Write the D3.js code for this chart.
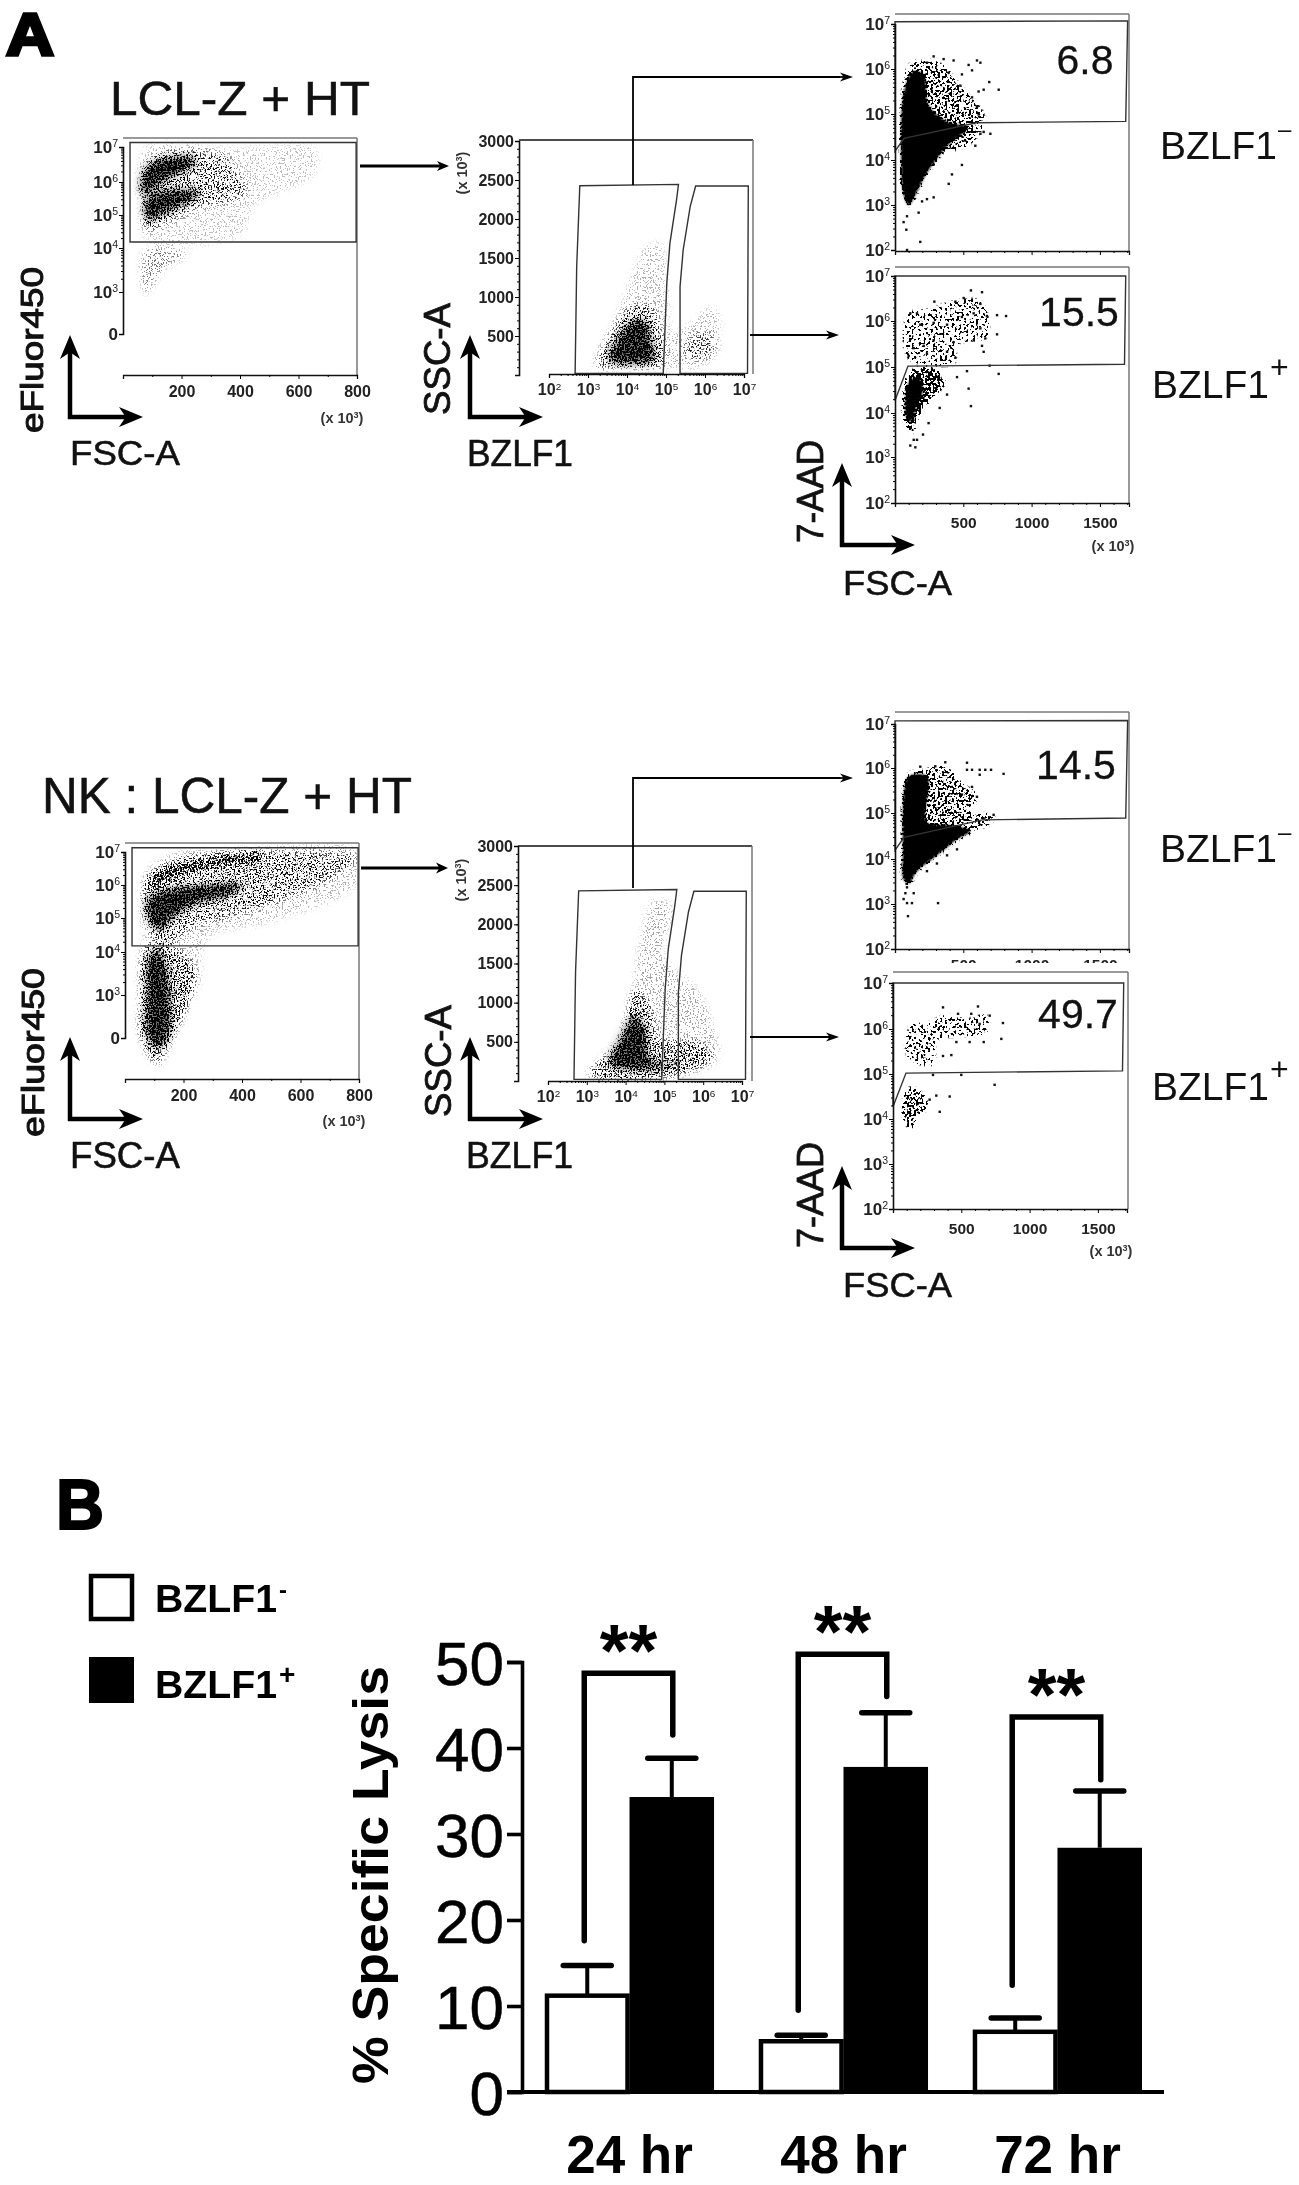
<!DOCTYPE html>
<html><head><meta charset="utf-8">
<script src="https://cdnjs.cloudflare.com/ajax/libs/d3/7.8.5/d3.min.js"></script>
<style>html,body{margin:0;padding:0;background:#fff}svg{display:block;filter:blur(.5px)}text{font-family:"Liberation Sans",Arial,sans-serif}</style>
</head><body><svg id="c" width="1299" height="2185"></svg>
<script>
// ---------- Panel B data ----------
const timeLabels = ["24 hr","48 hr","72 hr"];
const seriesNames = ["BZLF1-","BZLF1+"];
const lysisNeg = [11.2,5.9,7.0];
const lysisPos = [34.3,37.8,28.4];
const errTopNeg = [14.7,6.6,8.6];
const errTopPos = [38.8,44.1,35.0];
const bracketTop = [48.7,50.9,43.6];
const bracketLeftEnd = [17.6,9.5,12.4];
const bracketRightEnd = [41.5,46.0,36.3];
const lysisTicks = [0,10,20,30,40,50];

// ---------- Flow gates (FSC x10^3 or log10 BZLF1, vs log10 / SSC x10^3) ----------
const eFluorGate = [[24,7.13],[797,7.13],[797,4.18],[24,4.18]];
const bzlfNegGate = [[2.67,21],[2.71,1389],[2.79,2427],[5.32,2444],[5.27,2244],[5.10,1688],[5.02,1175],[4.93,21]];
const bzlfPosGate = [[5.36,21],[5.36,1132],[5.44,1603],[5.62,2158],[5.76,2423],[7.11,2423],[7.09,21]];
const aadGateA3 = [[0,7.05],[1703,7.07],[1689,4.84],[598,4.81],[66,4.47],[0,4.19]];
const aadGateA4 = [[0,7.0],[1689,7.0],[1680,5.06],[95,5.02],[0,4.27]];
const aadGateB3 = [[0,7.07],[1703,7.08],[1689,4.89],[640,4.85],[66,4.47],[0,4.19]];
const aadGateB4 = [[0,7.0],[1689,7.0],[1680,5.07],[95,5.02],[0,4.27]];

// ---------- Density regions: each has a level and an outline ----------
const a1Density = [
 {level:.1,pts:[[75,6.95],[400,6.95],[660,6.95],[650,6.2],[450,5.3],[400,4.4],[80,4.3],[60,5.5]]},
 {level:.3,pts:[[64,5.85],[104,6.71],[218,6.9],[355,6.71],[378,6.43],[423,5.75],[378,5.45],[264,5.25],[148,4.75],[80,4.55],[74,5.45]]},
 {level:1,pts:[[64,5.7],[75,6.33],[126,6.62],[190,6.7],[250,6.68],[240,6.5],[195,6.28],[126,5.98],[80,5.65]]},
 {level:1,pts:[[80,5.45],[148,5.72],[215,5.75],[265,5.7],[230,5.45],[171,5.2],[114,4.95],[85,4.85]]},
 {level:.22,pts:[[64,3.25],[80,3.96],[171,4],[216,3.85],[148,3.57],[103,3.2],[80,2.95]]}
];
const b1Density = [
 {level:.12,pts:[[70,6.3],[150,6.9],[400,7.05],[790,7.05],[790,6],[500,4.9],[280,4.4],[250,3.2],[150,2],[120,1.3],[70,2],[65,4]]},
 {level:.3,pts:[[70,6.1],[152,6.7],[318,6.95],[650,7.0],[790,6.85],[730,6.35],[567,5.65],[400,5.15],[235,4.75],[136,4.15],[103,4.35],[61,5.35]]},
 {level:.45,pts:[[53,2.1],[103,1.45],[170,2.1],[235,3.6],[152,4.15],[70,4.15],[53,2.9]]},
 {level:1,pts:[[86,3.88],[111,4.04],[136,3.65],[152,2.74],[144,2.02],[111,1.78],[78,2.1],[78,2.9]]},
 {level:1,pts:[[78,5.55],[152,5.85],[268,5.95],[401,6.0],[351,5.7],[235,5.45],[152,4.95],[119,4.65],[86,4.95]]},
 {level:.82,pts:[[78,6.15],[136,6.5],[235,6.75],[351,6.9],[467,6.95],[467,6.75],[333,6.6],[235,6.4],[152,6.15],[86,5.9]]}
];
const a2Density = [
 {level:.12,pts:[[4.16,1302],[4.5,1644],[4.85,1687],[5.02,1132],[5.2,534],[6.22,875],[6.39,449],[6.05,150],[4.7,100],[3.7,400]]},
 {level:.38,pts:[[3.22,107],[3.73,661],[4.16,875],[4.59,875],[4.85,534],[4.93,150],[3.82,107]]},
 {level:1,pts:[[3.56,192],[3.82,491],[4.08,661],[4.42,705],[4.59,449],[4.68,192],[4.25,150]]},
 {level:.24,pts:[[5.44,320],[5.79,534],[6.22,491],[6.22,278],[5.62,192]]}
];
const b2Density = [
 {level:.14,pts:[[4.36,1722],[4.73,2320],[5.17,2235],[4.98,1593],[5.85,1165],[6.35,525],[6.35,269],[5.35,55],[3.24,55],[3.99,610]]},
 {level:.42,pts:[[3.06,77],[3.86,525],[4.24,1165],[4.6,952],[4.86,525],[5.85,482],[6.22,311],[5.35,98]]},
 {level:1,pts:[[3.61,226],[3.86,525],[4.24,824],[4.48,653],[4.6,269],[5.35,205],[4.11,162]]}
];
const a3Density = [
 {level:.42,pts:[[100,6.05],[210,6.2],[356,6.05],[478,5.6],[600,5.2],[650,4.9],[560,4.4],[360,4.2],[100,4.5]]},
 {level:1,pts:[[68,5.5],[137,5.95],[210,5.87],[245,5.2],[381,4.83],[527,4.7],[381,4.3],[234,3.72],[161,3.3],[100,3.0],[63,3.25],[46,4.05]]}
];
const a4Density = [
 {level:.26,pts:[[100,6.15],[259,6.26],[429,6.43],[625,6.43],[673,5.67],[454,5.5],[429,5.08],[185,5.08],[88,5.24]]},
 {level:.72,pts:[[63,4.15],[100,4.82],[185,4.99],[307,4.91],[356,4.65],[259,4.32],[161,3.89],[124,3.56],[76,3.81]]},
 {level:1,pts:[[75,4.2],[110,4.7],[175,4.75],[205,4.5],[150,4.1],[115,3.8],[85,3.9]]}
];
const b3Density = [
 {level:.42,pts:[[100,5.85],[210,5.94],[356,6.03],[478,5.67],[600,5.36],[527,5.05],[722,4.92],[673,4.74],[381,4.6],[210,4.7]]},
 {level:1,pts:[[68,5.5],[100,5.81],[234,5.81],[234,4.79],[381,4.74],[551,4.61],[454,4.43],[307,4.08],[161,3.73],[100,3.46],[63,3.55],[59,4.17]]}
];
const b4Density = [
 {level:.3,pts:[[98,5.67],[134,6.07],[244,6.11],[390,6.29],[537,6.2],[683,6.29],[683,5.94],[488,5.85],[317,5.76],[293,5.23],[195,5.23],[110,5.4]]},
 {level:.5,pts:[[73,4.25],[122,4.69],[220,4.52],[244,4.25],[171,4.07],[134,3.81],[98,3.89]]}
];

// ---------- Individually readable events ----------
const a3Events = [[283,6.28],[234,6.14],[356,6.22],[429,6.19],[600,6.19],[625,6.14],[539,6.09],[564,5.97],[393,5.92],[490,5.88],[690,5.71],[759,5.54],[649,5.54],[612,5.5],[564,5.37],[478,5.63],[600,5.16],[612,4.99],[649,4.61],[698,4.57],[625,4.57],[588,4.31],[490,3.89],[417,3.68],[393,3.47],[283,3.17],[234,3.13],[198,3.08],[173,2.83],[88,2.75],[63,2.62],[83,2.45],[185,2.18],[88,2.0]];
const a4Events = [[556,6.68],[637,6.64],[503,6.51],[442,6.43],[288,6.43],[625,6.38],[747,6.13],[813,6.11],[673,6.11],[576,6.17],[490,6.09],[381,5.92],[283,5.96],[185,5.92],[161,6.17],[112,6.17],[625,5.84],[747,5.71],[661,5.62],[576,5.58],[637,5.46],[649,5.33],[429,5.54],[381,5.33],[442,5.2],[283,5.58],[210,5.46],[137,5.41],[100,5.24],[234,5.29],[693,5.03],[527,4.91],[759,4.85],[454,4.78],[539,4.53],[381,4.4],[556,4.15],[327,4.11],[246,3.77],[205,3.51],[161,3.39],[149,3.22],[112,3.26],[137,3.39]];
const b3Events = [[527,6.12],[368,6.13],[295,6.04],[185,6.03],[527,5.96],[564,5.96],[620,5.96],[661,5.96],[703,5.96],[795,5.87],[620,5.85],[564,5.58],[490,5.41],[600,5.36],[722,4.96],[649,4.88],[315,3.02],[95,2.73],[63,3.11],[88,3.02],[124,3.02],[137,3.24],[76,3.24],[88,3.37],[234,3.73],[307,3.9],[381,4.08],[454,4.21]];
const b4Events = [[622,6.49],[708,6.29],[805,6.13],[793,5.78],[744,4.76],[500,4.98],[427,5.42],[366,5.4],[293,4.98],[342,4.16],[415,4.5],[317,4.52],[268,4.43],[366,6.47],[476,6.33],[573,6.33],[634,6.11],[664,5.71],[561,5.71],[464,5.71]];

// ---------- Tick values ----------
const fscTicksSmall = [200,400,600,800];
const fscMinorSmall = [100,300,500,700];
const fscTicksLarge = [500,1000,1500];
const fscMinorLarge = [100,200,300,400,600,700,800,900,1100,1200,1300,1400,1600,1700];
const eFluorTicks = [2,3,4,5,6,7];
const aadTicks = [2,3,4,5,6,7];
const sscTicks = [500,1000,1500,2000,2500,3000];
const bzlfTicks = [2,3,4,5,6,7];
const percentages = ["6.8","15.5","14.5","49.7"];

// ---------- Layout (pixels only here) ----------
const svg = d3.select("#c");
const defs = svg.append("defs");
function stippleFilter(id,freq,oct,blur,slope,soft){
  const f=defs.append("filter").attr("id",id).attr("x","-20%").attr("y","-20%").attr("width","140%").attr("height","140%").attr("color-interpolation-filters","sRGB");
  f.append("feGaussianBlur").attr("in","SourceAlpha").attr("stdDeviation",blur).attr("result","field");
  f.append("feTurbulence").attr("type","fractalNoise").attr("baseFrequency",freq).attr("numOctaves",oct).attr("seed",4).attr("result","n");
  f.append("feColorMatrix").attr("in","n").attr("type","matrix").attr("values","0 0 0 0 0  0 0 0 0 0  0 0 0 0 0  4 0 0 0 -1.5").attr("result","g");
  f.append("feComposite").attr("in","field").attr("in2","g").attr("operator","arithmetic").attr("k1",0).attr("k2",1).attr("k3",1).attr("k4",-1).attr("result","s");
  const t=f.append("feComponentTransfer").attr("in","s").attr("result","t");
  t.append("feFuncA").attr("type","linear").attr("slope",slope).attr("intercept",0);
  f.append("feGaussianBlur").attr("in","t").attr("stdDeviation",soft);
}
stippleFilter("fine",.62,2,3.5,2.6,.5);
stippleFilter("coarse",.42,1,1.5,9,.2);
defs.append("filter").attr("id","softfine").attr("x","-30%").attr("y","-30%").attr("width","160%").attr("height","160%").append("feGaussianBlur").attr("stdDeviation",4);
defs.append("filter").attr("id","softcoarse").attr("x","-20%").attr("y","-20%").attr("width","140%").attr("height","140%").append("feGaussianBlur").attr("stdDeviation",.8);

function txt(g,x,y,s,o={}){
  const t=g.append("text").attr("transform",`translate(${x},${y})`+(o.rot?` rotate(${o.rot})`:""))
    .attr("font-size",o.size||16).attr("font-weight",o.weight||"normal").attr("fill",o.fill||"#111")
    .attr("text-anchor",o.anchor||"start");
  if(o.stroke) t.attr("stroke",o.fill||"#111").attr("stroke-width",o.stroke);
  const m=t.append("tspan").text(s);
  if(o.len) m.attr("textLength",o.len).attr("lengthAdjust","spacingAndGlyphs");
  if(o.sup) t.append("tspan").text(o.sup).attr("font-size",o.supSize||o.size*.6).attr("dy",o.supDy||-o.size*.35).attr("dx",o.supDx||0);
  return t;
}
function arrow(g,x1,y1,x2,y2,w,hl,hw){
  const a=Math.atan2(y2-y1,x2-x1),c=Math.cos(a),s=Math.sin(a);
  g.append("line").attr("x1",x1).attr("y1",y1).attr("x2",x2-c*hl*.6).attr("y2",y2-s*hl*.6).attr("stroke","#000").attr("stroke-width",w);
  const p=(l,n)=>[x2-c*l-s*n,y2-s*l+c*n];
  g.append("path").attr("fill","#000").attr("d","M"+[p(0,0),p(hl,hw/2),p(hl*.72,0),p(hl,-hw/2)].join("L")+"Z");
}
let clipN=0;
function flowPanel(c){
  const g=svg.append("g");
  const b=c.box;
  if(c.cover) g.append("rect").attr("x",c.cover[0]).attr("y",c.cover[1]).attr("width",c.cover[2]).attr("height",c.cover[3]).attr("fill","#fff");
  const x=d3.scaleLinear().domain(c.xDomain).range(c.xRange);
  const y=d3.scaleLinear().domain(c.yDomain).range(c.yRange);
  const id="cp"+(clipN++);
  defs.append("clipPath").attr("id",id).append("rect").attr("x",b.l).attr("y",b.t).attr("width",b.r-b.l).attr("height",b.b-b.t);
  const clip=g.append("g").attr("clip-path",`url(#${id})`);
  const dens=clip.append("g").attr("filter",`url(#${c.filter})`);
  const area=d3.line().x(d=>x(d[0])).y(d=>y(d[1])).curve(d3.curveCatmullRomClosed);
  c.density.forEach(d=>dens.append("path").attr("d",area(d.pts)).attr("fill","#000").attr("fill-opacity",d.level));
  const isFine=c.filter==="fine";
  const solid=clip.append("g").attr("filter",`url(#${isFine?"softfine":"softcoarse"})`);
  c.density.filter(d=>d.level>=1).forEach(d=>solid.append("path").attr("d",area(d.pts)).attr("fill","#000").attr("fill-opacity",isFine?.55:1));
  if(c.events) clip.selectAll(".ev").data(c.events).join("rect").attr("x",d=>x(d[0])-1.2).attr("y",d=>y(d[1])-1.2).attr("width",2.4).attr("height",2.4).attr("fill","#111");
  // frame
  g.append("path").attr("fill","none").attr("stroke",c.topDark?"#111":"#777").attr("stroke-width",1.5).attr("d",`M${b.l},${b.t}H${b.r}`);
  g.append("path").attr("fill","none").attr("stroke","#777").attr("stroke-width",1.5).attr("d",`M${b.r},${b.t}V${b.b}`);
  // gates
  const gl=d3.line().x(d=>x(d[0])).y(d=>y(d[1]));
  (c.gates||[]).forEach(G=>g.append("path").attr("d",gl(G)+"Z").attr("fill","none").attr("stroke","#333").attr("stroke-width",1.4));
  // axes
  const ax=g.append("g").attr("transform",`translate(0,${b.b})`).call(d3.axisBottom(x).tickValues(c.xTicks).tickSize(4).tickPadding(c.xPad).tickFormat(c.xFmt));
  const ay=g.append("g").attr("transform",`translate(${b.l},0)`).call(d3.axisLeft(y).tickValues(c.yTicks).tickSize(4).tickPadding(c.yPad||1).tickFormat(c.yFmt));
  g.append("g").attr("transform",`translate(0,${b.b})`).call(d3.axisBottom(x).tickValues(c.xMinor).tickSize(2).tickFormat("")).select(".domain").remove();
  g.append("g").attr("transform",`translate(${b.l},0)`).call(d3.axisLeft(y).tickValues(c.yMinor).tickSize(2).tickFormat("")).select(".domain").remove();
  g.selectAll(".domain").attr("stroke","#111").attr("stroke-width",1.6);
  ax.select(".domain").attr("stroke-width",1.3);
  const styleT=(s,sz)=>s.selectAll("text").attr("font-size",sz).attr("font-weight","bold").attr("fill","#222").attr("font-family",'"Liberation Sans",Arial,sans-serif');
  styleT(ax,c.tickX);styleT(ay,c.tickY);
  if(c.expX) expTicks(ax,c.tickX,"middle");
  if(c.expY) expTicks(ay,c.tickY,"end");
  return {g,x,y};
}
function expTicks(a,size,anchor){
  a.selectAll(".tick text").each(function(d){
    const t=d3.select(this), s=t.text();
    if(s!=="x") return;
    t.text("").attr("text-anchor",anchor);
    t.append("tspan").text("10");
    t.append("tspan").text(d).attr("font-size",size*.62).attr("dy",-size*.36).attr("font-weight","normal");
  });
}
const expFmt=()=>"x";
const eFluorFmt=d=>d===2?"0":"x";
const logMinor=[];
[2,3,4,5,6].forEach(e=>[2,3,4,5,6,7,8,9].forEach(m=>logMinor.push(e+Math.log10(m))));

function xNote(g,x,y,rot){
  const o={size:14.5,anchor:"middle",weight:"bold",sup:"3",supSize:9,supDy:-5,fill:"#333"};
  if(rot) o.rot=rot;
  const t=txt(g,x,y,"(x 10",o); t.append("tspan").text(")").attr("dy",5);
}

function eFluorPanel(box,yRange,x800,density){
  return flowPanel({box,xDomain:[0,800],xRange:[box.l,x800],yDomain:[2,3,4,5,6,7],yRange,filter:"fine",density,gates:[eFluorGate],
    xTicks:fscTicksSmall,xMinor:fscMinorSmall,xPad:7,yTicks:eFluorTicks,yMinor:logMinor.filter(d=>d>3.1),xFmt:d=>d,yFmt:eFluorFmt,expY:true,tickX:16,tickY:17});
}
function bzlfPanel(box,xRange,yRange,density){
  return flowPanel({box,xDomain:[2,7],xRange,yDomain:[0,3000],yRange,filter:"fine",density,gates:[bzlfNegGate,bzlfPosGate],topDark:true,
    xTicks:bzlfTicks,xMinor:logMinor,xPad:6,yTicks:sscTicks,yMinor:d3.range(100,3000,100),xFmt:expFmt,yFmt:d=>d,expX:true,tickX:16,tickY:16});
}
function aadPanel(box,xRange,yRange,density,events,gate,opts={}){
  return flowPanel(Object.assign({box,xDomain:[0,1713],xRange,yDomain:[2,3,4,5,6,7],yRange,filter:"coarse",density,events,gates:[gate],
    xTicks:fscTicksLarge,xMinor:fscMinorLarge,xPad:10,yTicks:aadTicks,yMinor:logMinor,xFmt:d=>d,yFmt:expFmt,expY:true,tickX:15.5,tickY:17},opts));
}

const P1=eFluorPanel({l:123,r:357,t:138,b:375},[334,292,248,215,182,147],357,a1Density);
const P2=bzlfPanel({l:519,r:753,t:140,b:374},[549,744],[375,141],a2Density);
const P3=aadPanel({l:895,r:1129,t:14,b:251},[895,1129],[250,205,160,114,69,24],a3Density,a3Events,aadGateA3,{xFmt:()=>""});
const P4=aadPanel({l:895,r:1129,t:267,b:503},[895,1129],[503,457,413,367,321,276],a4Density,a4Events,aadGateA4);
const P5=eFluorPanel({l:125,r:359,t:843,b:1079},[1038,995,952,918,885,852],359,b1Density);
const P6=bzlfPanel({l:518,r:752,t:846,b:1081},[548,742],[1081,846],b2Density);
const P7=aadPanel({l:895,r:1129,t:712,b:949},[895,1129],[949,904,859,813,768,724],b3Density,b3Events,aadGateB3,{xPad:6});
const P8=aadPanel({l:893,r:1128,t:972,b:1209},[893,1127],[1209,1164,1119,1074,1029,983],b4Density,b4Events,aadGateB4,{cover:[885,963,250,250]});

// Annotation layer
const A=svg.append("g");
const H=.55;
txt(A,6,55,"A",{size:60,weight:"bold",stroke:3.4,fill:"#000",len:48});
txt(A,110,115,"LCL-Z + HT",{size:49,len:260,stroke:H});
txt(A,42,813,"NK : LCL-Z + HT",{size:50,len:370,stroke:H});
txt(A,43,433,"eFluor450",{size:31,rot:-90,len:166,stroke:1});
txt(A,44,1137,"eFluor450",{size:31,rot:-90,len:169,stroke:1});
txt(A,70,465,"FSC-A",{size:35,len:110,stroke:H});
txt(A,70,1168,"FSC-A",{size:36,len:110,stroke:H});
txt(A,450,415,"SSC-A",{size:36,rot:-90,len:112,stroke:.8});
txt(A,451,1117,"SSC-A",{size:36,rot:-90,len:112,stroke:.8});
txt(A,467,466,"BZLF1",{size:36,len:106,stroke:H});
txt(A,466,1168,"BZLF1",{size:37,len:107,stroke:H});
txt(A,823,543,"7-AAD",{size:36,rot:-90,len:103,stroke:.8});
txt(A,823,1248,"7-AAD",{size:36,rot:-90,len:106,stroke:.8});
txt(A,843,595,"FSC-A",{size:35,len:109,stroke:H});
txt(A,843,1297,"FSC-A",{size:35,len:109,stroke:H});
xNote(A,342,423);xNote(A,344,1126);
xNote(A,1113,551);xNote(A,1111,1256);
xNote(A,467,173,-90);xNote(A,466,880,-90);
[[70,417,143,335],[70,1119,143,1037],[470,417,543,335],[470,1119,543,1037],[842,545,915,463],[842,1248,915,1166]].forEach(a=>{
  arrow(A,a[0]-2,a[1],a[2],a[1],4.5,24,20);
  arrow(A,a[0],a[1]+2,a[0],a[3],4.5,24,20);
});
arrow(A,360,166,449,166,3,12,10);
arrow(A,361,868,448,868,3.2,12,11);
A.append("path").attr("d","M633,185V77H840").attr("fill","none").attr("stroke","#000").attr("stroke-width",1.8);
arrow(A,835,77,853,77,1.8,13,9);
A.append("path").attr("d","M633,888V778H840").attr("fill","none").attr("stroke","#000").attr("stroke-width",1.8);
arrow(A,835,778,853,778,1.8,13,9);
arrow(A,750,335,839,335,1.8,13,9);
arrow(A,750,1037,839,1037,1.8,13,9);
[[1085,74],[1079,326],[1076,779],[1078,1028]].forEach((p,i)=>txt(A,p[0],p[1],percentages[i],{size:41,anchor:"middle",stroke:.3}));
[[1160,159,"\u2013"],[1152,398,"+"],[1160,862,"\u2013"],[1152,1100,"+"]].forEach(l=>{
  txt(A,l[0],l[1],"BZLF1",{size:39,sup:l[2],supSize:l[2]==="+"?32:24,supDy:l[2]==="+"?-20:-22,supDx:1});
});

// ---------- Panel B ----------
const B=svg.append("g");
txt(B,56,1529,"B",{size:70,weight:"bold",stroke:2.2,fill:"#000",len:48});
B.append("rect").attr("x",91).attr("y",1576).attr("width",41).attr("height",43).attr("fill","#fff").attr("stroke","#000").attr("stroke-width",4.5);
B.append("rect").attr("x",89).attr("y",1657).attr("width",45).attr("height",46).attr("fill","#000");
txt(B,155,1612,"BZLF1",{size:38,weight:"bold",len:122,sup:"-",supSize:24,supDy:-14,supDx:2,fill:"#000"});
txt(B,155,1698,"BZLF1",{size:38,weight:"bold",len:122,sup:"+",supSize:28,supDy:-14,supDx:2,fill:"#000"});

const yB=d3.scaleLinear().domain([0,50]).range([2092,1662]);
const x0=d3.scaleBand().domain(timeLabels).range([545,1142]).paddingInner(.21).paddingOuter(0);
const x1=d3.scaleBand().domain(seriesNames).range([0,x0.bandwidth()]);
const rows=timeLabels.map((t,i)=>({t,i}));
[[seriesNames[0],errTopNeg,lysisNeg],[seriesNames[1],errTopPos,lysisPos]].forEach(([s,top,val])=>{
  rows.forEach(r=>{
    const cx=x0(r.t)+x1(s)+x1.bandwidth()/2;
    B.append("line").attr("x1",cx).attr("x2",cx).attr("y1",yB(val[r.i])).attr("y2",yB(top[r.i])).attr("stroke","#000").attr("stroke-width",4);
    B.append("line").attr("x1",cx-24).attr("x2",cx+24).attr("y1",yB(top[r.i])).attr("y2",yB(top[r.i])).attr("stroke","#000").attr("stroke-width",5.5).attr("stroke-linecap","round");
  });
});
B.selectAll(".neg").data(rows).join("rect").attr("x",d=>x0(d.t)+x1(seriesNames[0])+2).attr("width",x1.bandwidth()-4)
  .attr("y",d=>yB(lysisNeg[d.i])).attr("height",d=>yB(0)-yB(lysisNeg[d.i])).attr("fill","#fff").attr("stroke","#000").attr("stroke-width",4.5);
B.selectAll(".pos").data(rows).join("rect").attr("x",d=>x0(d.t)+x1(seriesNames[1])).attr("width",x1.bandwidth())
  .attr("y",d=>yB(lysisPos[d.i])).attr("height",d=>yB(0)-yB(lysisPos[d.i])).attr("fill","#000");
rows.forEach(r=>{
  const lx=x0(r.t)+x1(seriesNames[0])+x1.bandwidth()/2-3, rx=x0(r.t)+x1(seriesNames[1])+x1.bandwidth()/2+1;
  B.append("path").attr("fill","none").attr("stroke","#000").attr("stroke-width",5.5).attr("stroke-linecap","round")
   .attr("d",`M${lx},${yB(bracketLeftEnd[r.i])}V${yB(bracketTop[r.i])}H${rx}V${yB(bracketRightEnd[r.i])}`);
  txt(B,(lx+rx)/2,yB(bracketTop[r.i])+3,"**",{size:74,weight:"bold",anchor:"middle",fill:"#000"});
});
const ayB=B.append("g").attr("transform","translate(522,0)").call(d3.axisLeft(yB).tickValues(lysisTicks).tickSize(15).tickPadding(3));
ayB.selectAll("line,path").attr("stroke","#000").attr("stroke-width",3.6);
ayB.selectAll("text").attr("font-size",62).attr("fill","#000").attr("stroke","#000").attr("stroke-width",.5).attr("font-family",'"Liberation Sans",Arial,sans-serif').attr("dy","0.36em");
B.append("line").attr("x1",507).attr("x2",1164).attr("y1",yB(0)).attr("y2",yB(0)).attr("stroke","#000").attr("stroke-width",4);
const axB=B.append("g").attr("transform",`translate(0,${yB(0)})`).call(d3.axisBottom(x0).tickSize(0).tickPadding(43));
axB.select(".domain").remove();
axB.selectAll("text").attr("font-size",53).attr("font-weight","bold").attr("fill","#000").attr("font-family",'"Liberation Sans",Arial,sans-serif');
txt(B,388,2084,"% Specific Lysis",{size:50,weight:"bold",rot:-90,len:418,fill:"#000"});
</script></body></html>
